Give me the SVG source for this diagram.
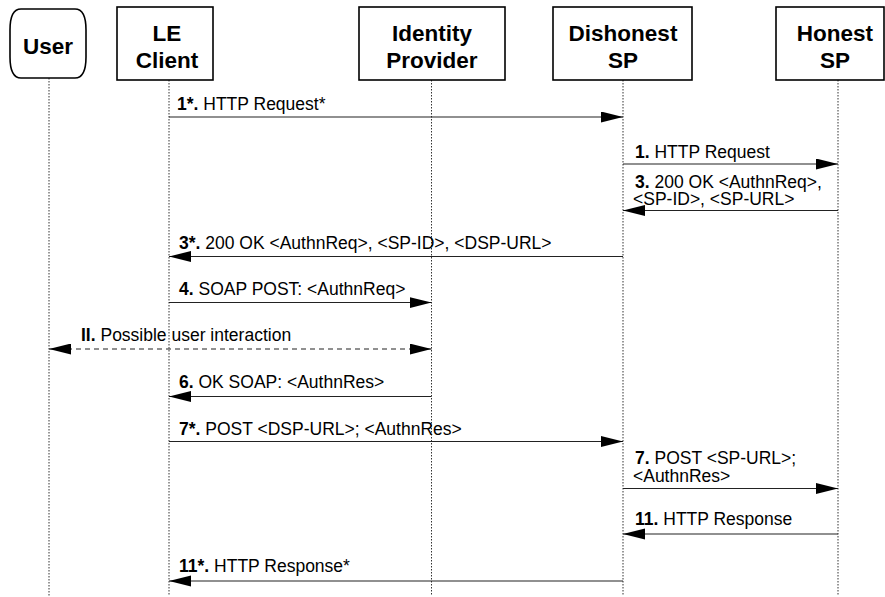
<svg xmlns="http://www.w3.org/2000/svg" width="885" height="597" viewBox="0 0 885 597">
<defs>
<marker id="ah" markerUnits="userSpaceOnUse" markerWidth="23" markerHeight="12" refX="22" refY="5.5" orient="auto">
<path d="M0,0 L22,5.5 L0,11 Z" fill="#000"/>
</marker>
<marker id="ahs" markerUnits="userSpaceOnUse" markerWidth="23" markerHeight="12" refX="0" refY="5.5" orient="auto">
<path d="M22,0 L0,5.5 L22,11 Z" fill="#000"/>
</marker>
<style>
.box{fill:#fff;stroke:#000;stroke-width:1.6}
.hd{font-family:"Liberation Sans",Arial,sans-serif;font-weight:bold;font-size:22.5px;text-anchor:middle;fill:#000}
.life{stroke:#333;stroke-width:1;stroke-dasharray:1.5,1.5;fill:none}
.msg{stroke:#222;stroke-width:1.2;fill:none;marker-end:url(#ah)}
.dash{stroke:#222;stroke-width:1.2;fill:none;stroke-dasharray:5,4;marker-end:url(#ah);marker-start:url(#ahs)}
.lb{font-family:"Liberation Sans",Arial,sans-serif;font-size:17.5px;fill:#000}
.b{font-weight:bold}
</style>
</defs>
<rect width="885" height="597" fill="#fff"/>
<g id="lifelines">
<line class="life" x1="49" y1="78" x2="49" y2="596"/>
<line class="life" x1="169" y1="80" x2="169" y2="596"/>
<line class="life" x1="431.5" y1="80" x2="431.5" y2="596"/>
<line class="life" x1="623" y1="80" x2="623" y2="596"/>
<line class="life" x1="838" y1="80" x2="838" y2="596"/>
</g>
<g id="user">
<path class="box" d="M21,9 L75,9 Q86,9 86,30 L86,57 Q86,78 75,78 L21,78 Q10,78 10,57 L10,30 Q10,9 21,9 Z"/>
<text class="hd" x="48" y="54">User</text>
</g>
<g id="le-client">
<rect class="box" x="117" y="7" width="96" height="73"/>
<text class="hd" x="167" y="41">LE</text>
<text class="hd" x="167" y="68">Client</text>
</g>
<g id="identity-provider">
<rect class="box" x="359" y="7" width="146" height="73"/>
<text class="hd" x="432" y="41">Identity</text>
<text class="hd" x="432" y="68">Provider</text>
</g>
<g id="dishonest-sp">
<rect class="box" x="553" y="7" width="139" height="73"/>
<text class="hd" x="623" y="41">Dishonest</text>
<text class="hd" x="623" y="68">SP</text>
</g>
<g id="honest-sp">
<rect class="box" x="776" y="7" width="108" height="73"/>
<text class="hd" x="835" y="41">Honest</text>
<text class="hd" x="835" y="68">SP</text>
</g>
<g id="connectors">
<line class="msg" x1="169" y1="117" x2="623" y2="117"/>
<line class="msg" x1="623" y1="164" x2="838" y2="164"/>
<line class="msg" x1="838" y1="210.5" x2="623" y2="210.5"/>
<line class="msg" x1="623" y1="256.5" x2="169" y2="256.5"/>
<line class="msg" x1="169" y1="302.5" x2="431.5" y2="302.5"/>
<line class="dash" x1="49" y1="349" x2="431.5" y2="349"/>
<line class="msg" x1="431.5" y1="396.5" x2="169" y2="396.5"/>
<line class="msg" x1="169" y1="441.5" x2="623" y2="441.5"/>
<line class="msg" x1="623" y1="488.5" x2="838" y2="488.5"/>
<line class="msg" x1="838" y1="534" x2="623" y2="534"/>
<line class="msg" x1="623" y1="581" x2="169" y2="581"/>
</g>
<g id="labels">
<text class="lb" x="177" y="110"><tspan class="b">1*.</tspan> HTTP Request*</text>
<text class="lb" x="635" y="157.5"><tspan class="b">1.</tspan> HTTP Request</text>
<text class="lb" x="635" y="187.5"><tspan class="b">3.</tspan> 200 OK &lt;AuthnReq&gt;,</text>
<text class="lb" x="633" y="204.5">&lt;SP-ID&gt;, &lt;SP-URL&gt;</text>
<text class="lb" x="179" y="248.5"><tspan class="b">3*.</tspan> 200 OK &lt;AuthnReq&gt;, &lt;SP-ID&gt;, &lt;DSP-URL&gt;</text>
<text class="lb" x="179" y="295"><tspan class="b">4.</tspan> SOAP POST: &lt;AuthnReq&gt;</text>
<text class="lb" x="81" y="341"><tspan class="b">II.</tspan> Possible user interaction</text>
<text class="lb" x="179" y="387.5"><tspan class="b">6.</tspan> OK SOAP: &lt;AuthnRes&gt;</text>
<text class="lb" x="179" y="435"><tspan class="b">7*.</tspan> POST &lt;DSP-URL&gt;; &lt;AuthnRes&gt;</text>
<text class="lb" x="635" y="463.5"><tspan class="b">7.</tspan> POST &lt;SP-URL&gt;;</text>
<text class="lb" x="633" y="482">&lt;AuthnRes&gt;</text>
<text class="lb" x="635" y="525"><tspan class="b">11.</tspan> HTTP Response</text>
<text class="lb" x="179" y="572"><tspan class="b">11*.</tspan> HTTP Response*</text>
</g>
</svg>
